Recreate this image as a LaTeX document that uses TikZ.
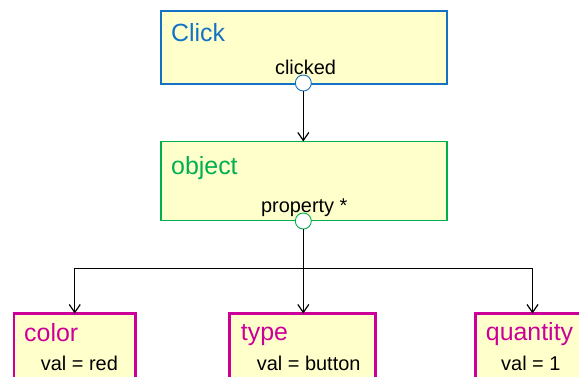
\documentclass[tikz,border=0pt]{standalone}
\usepackage{fontspec}
\setmainfont{Liberation Sans}
\usetikzlibrary{arrows.meta}
\definecolor{clickblue}{RGB}{20,114,196}
\definecolor{objgreen}{RGB}{0,176,80}
\definecolor{propmag}{RGB}{204,0,153}
\definecolor{boxfill}{RGB}{255,255,204}
\tikzset{
  box/.style={fill=boxfill, rectangle, anchor=north west, inner sep=0pt, outer sep=0pt},
  frame/.style={line width=#1},
  title/.style={anchor=base west, inner sep=0pt, font=\fontsize{25}{30}\selectfont},
  small/.style={inner sep=0pt, font=\fontsize{20}{24}\selectfont, text=black},
  port/.style={draw, fill=white, circle, minimum size=16bp, inner sep=0pt, line width=0.9bp},
  conn/.style={line width=1.3bp, black},
  arr/.style={conn, -{Straight Barb[length=8bp,width=11bp,line width=1.2bp]}}
}
\begin{document}
\begin{tikzpicture}[x=1bp,y=-1bp]
\useasboundingbox (0,0) rectangle (579,376);
\clip (0,0) rectangle (579,376);
% boxes
\node[box, minimum width=286bp, minimum height=73bp] (clickbox) at (160.8,10.8) {};
\draw[clickblue, frame=1.6bp] (clickbox.north west) rectangle (clickbox.south east);
\node[box, minimum width=286bp, minimum height=79bp] (objbox) at (160.8,141.5) {};
\draw[objgreen, frame=1.6bp] (objbox.north west) rectangle (objbox.south east);
\node[box, minimum width=121.5bp, minimum height=100bp] (colorbox) at (14,313.5) {};
\draw[propmag, frame=2.5bp] (colorbox.north west) rectangle (colorbox.south east);
\node[box, minimum width=146bp, minimum height=100bp] (typebox) at (229.5,313.5) {};
\draw[propmag, frame=2.5bp] (typebox.north west) rectangle (typebox.south east);
\node[box, minimum width=114bp, minimum height=100bp] (qtybox) at (475.5,313.5) {};
\draw[propmag, frame=2.5bp] (qtybox.north west) rectangle (qtybox.south east);
% texts
\node[title, text=clickblue] (clickt) at (171,41) {Click};
\node[small, anchor=base] (clickedt) at (305.5,74) {clicked};
\node[title, text=objgreen] (objt) at (171,174.3) {object};
\node[small, anchor=base] (propt) at (304.3,212) {property *};
\node[title, text=propmag] (colort) at (24,341) {color};
\node[small, anchor=base west] (colorv) at (40.7,370) {val = red};
\node[title, text=propmag] (typet) at (240.7,340.5) {type};
\node[small, anchor=base west] (typev) at (256.7,370) {val = button};
\node[title, text=propmag] (qtyt) at (485.7,340.5) {quantity};
\node[small, anchor=base west] (qtyv) at (501,370) {val = 1};
% ports
\node[port, draw=clickblue] (p1) at (303.3,83) {};
\node[port, draw=objgreen] (p2) at (303.3,221) {};
% connectors
\draw[arr] (p1.south) -- (p1.south |- objbox.north);
\coordinate (split) at (303.3,268.5);
\draw[conn] (p2.south) -- (split);
\draw[arr] (split) -| (colorbox.north);
\draw[arr] (split) -- (split |- typebox.north);
\draw[arr] (split) -| (qtybox.north);
\end{tikzpicture}
\end{document}
